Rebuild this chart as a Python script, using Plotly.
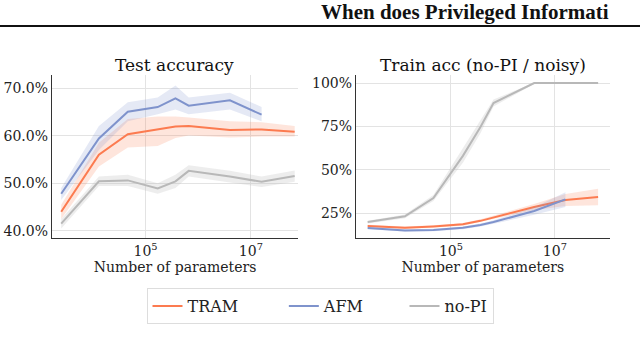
import plotly.graph_objects as go

# number of parameters (shared by all runs)
n_params = [2.5e3, 1.3e4, 4.6e4, 1.7e5, 3.7e5, 6.6e5, 4e6, 1.6e7, 6.8e7]

# test accuracy (%)
tram_test = [44.0, 56.0, 60.3, 61.4, 61.9, 62.0, 61.2, 61.3, 60.8]
tram_test_lo = [42.5, 53.5, 57.5, 57.8, 59.5, 60.0, 59.6, 59.8, 59.8]
tram_test_hi = [45.5, 58.5, 63.5, 64.0, 64.0, 63.8, 63.0, 62.8, 62.0]
afm_test = [47.8, 59.4, 65.0, 66.0, 67.8, 66.3, 67.4, 64.4]
afm_test_lo = [46.5, 57.0, 63.0, 64.5, 65.5, 64.5, 65.5, 63.0]
afm_test_hi = [49.0, 62.0, 67.0, 68.0, 70.5, 68.0, 69.0, 66.0]
nopi_test = [41.5, 50.4, 50.6, 48.9, 50.4, 52.6, 51.4, 50.3, 51.5]
nopi_test_lo = [40.5, 49.4, 49.4, 47.8, 49.0, 51.4, 50.2, 49.2, 50.3]
nopi_test_hi = [42.5, 51.4, 51.8, 50.0, 51.8, 53.8, 52.6, 51.4, 52.7]

# train accuracy on no-PI / noisy samples (%)
tram_train = [17.5, 16.5, 17.3, 18.5, 20.5, 22.5, 28.5, 32.5, 34.2]
tram_train_lo = [16.7, 15.8, 16.6, 17.7, 19.6, 21.5, 26.8, 29.0, 29.5]
tram_train_hi = [18.3, 17.2, 18.0, 19.3, 21.4, 23.5, 30.2, 36.0, 39.0]
afm_train = [16.3, 15.0, 15.2, 16.5, 18.1, 19.8, 26.2, 32.9]
afm_train_lo = [15.6, 14.3, 14.5, 15.7, 17.2, 18.8, 24.0, 28.5]
afm_train_hi = [17.0, 15.7, 15.9, 17.3, 19.0, 20.8, 28.4, 37.0]
nopi_train = [19.8, 23.1, 33.7, 58.0, 74.7, 88.5, 100.0, 100.0, 100.0]
nopi_train_lo = [19.0, 22.0, 32.0, 54.0, 71.0, 86.5, 99.5, 99.5, 99.5]
nopi_train_hi = [20.6, 24.2, 35.4, 62.0, 78.5, 90.5, 100.3, 100.3, 100.3]

colors = {'TRAM': '#fc7b50', 'AFM': '#7f93cc', 'no-PI': '#b8b8b8'}
fills = {'TRAM': 'rgba(252,123,80,0.2)', 'AFM': 'rgba(127,147,204,0.2)',
         'no-PI': 'rgba(184,184,184,0.25)'}
# trailing spaces give the wider gaps between legend entries
legend_pad = {'TRAM': '\u00a0' * 8, 'AFM': '\u00a0' * 7, 'no-PI': ''}
FONT = 'DejaVu Serif'

fig = go.Figure()


def add_series(name, y, lo, hi, xa, ya, legend):
    xs = n_params[:len(y)]
    fig.add_trace(go.Scatter(x=xs + xs[::-1], y=hi + lo[::-1], fill='toself',
                             mode='lines', fillcolor=fills[name],
                             line={'width': 0}, hoverinfo='skip',
                             showlegend=False, xaxis=xa, yaxis=ya))
    fig.add_trace(go.Scatter(x=xs, y=y, mode='lines',
                             name=name + legend_pad[name],
                             line={'color': colors[name], 'width': 2},
                             legendgroup=name, showlegend=legend,
                             legendrank={'TRAM': 1, 'AFM': 2, 'no-PI': 3}[name],
                             xaxis=xa, yaxis=ya))


# draw order: no-PI at the back
add_series('no-PI', nopi_test, nopi_test_lo, nopi_test_hi, 'x', 'y', False)
add_series('TRAM', tram_test, tram_test_lo, tram_test_hi, 'x', 'y', True)
add_series('AFM', afm_test, afm_test_lo, afm_test_hi, 'x', 'y', True)
add_series('no-PI', nopi_train, nopi_train_lo, nopi_train_hi, 'x2', 'y2', True)
add_series('TRAM', tram_train, tram_train_lo, tram_train_hi, 'x2', 'y2', False)
add_series('AFM', afm_train, afm_train_lo, afm_train_hi, 'x2', 'y2', False)

xcommon = dict(type='log', showgrid=True, gridcolor='#e3e3e3', gridwidth=1,
               zeroline=False, showline=True, linecolor='#333333', linewidth=1,
               ticks='', tickvals=[1e5, 1e7],
               ticktext=['10<sup>5</sup>', '10<sup>7</sup>'],
               tickfont={'family': FONT, 'size': 14, 'color': '#222'},
               title={'text': 'Number of parameters', 'standoff': 2,
                      'font': {'family': FONT, 'size': 14, 'color': '#222'}})
ycommon = dict(showgrid=True, gridcolor='#e3e3e3', gridwidth=1, zeroline=False,
               showline=True, linecolor='#333333', linewidth=1, ticks='',
               tickfont={'family': FONT, 'size': 14, 'color': '#222'})

fig.update_layout(
    width=640, height=340,
    margin={'t': 0, 'b': 0, 'l': 0, 'r': 0},
    paper_bgcolor='white', plot_bgcolor='white',
    xaxis=dict(xcommon, domain=[0.081, 0.466], range=[3.22, 7.9], anchor='y'),
    yaxis=dict(ycommon, domain=[0.3, 0.779], range=[38.5, 72.7], anchor='x',
               tickvals=[40, 50, 60, 70],
               ticktext=['40.0%', '50.0%', '60.0%', '70.0%']),
    xaxis2=dict(xcommon, domain=[0.556, 0.953], range=[3.17, 8.06], anchor='y2'),
    yaxis2=dict(ycommon, domain=[0.3, 0.779], range=[10.6, 104.6], anchor='x2',
                tickvals=[25, 50, 75, 100],
                ticktext=['25%', '50%', '75%', '100%']),
    legend={'orientation': 'h', 'x': 0.5, 'xanchor': 'center',
            'y': 1 - 288 / 340, 'yanchor': 'top',
            'bordercolor': '#dddddd', 'borderwidth': 1,
            'font': {'family': FONT, 'size': 16, 'color': '#222'},
            'traceorder': 'normal'},
    annotations=[
        {'text': 'Test accuracy', 'x': 0.2734, 'y': 1 - 65 / 340,
         'xref': 'paper', 'yref': 'paper', 'showarrow': False,
         'xanchor': 'center', 'yanchor': 'middle',
         'font': {'family': FONT, 'size': 17, 'color': '#111'}},
        {'text': 'Train acc (no-PI / noisy)', 'x': 0.7547, 'y': 1 - 65 / 340,
         'xref': 'paper', 'yref': 'paper', 'showarrow': False,
         'xanchor': 'center', 'yanchor': 'middle',
         'font': {'family': FONT, 'size': 17, 'color': '#111'}},
        {'text': '<b>When does Privileged Informati</b>',
         'x': 319 / 640, 'y': 1 - 12.5 / 340,
         'xref': 'paper', 'yref': 'paper', 'showarrow': False,
         'xanchor': 'left', 'yanchor': 'middle',
         'font': {'family': 'Liberation Serif', 'size': 21, 'color': '#111'}},
    ],
    shapes=[{'type': 'line', 'xref': 'paper', 'yref': 'paper',
             'x0': 0, 'x1': 1, 'y0': 1 - 26 / 340, 'y1': 1 - 26 / 340,
             'line': {'color': '#111', 'width': 2}}],
)

# drop the browser's default page margin so the figure sits at the corner
fig.write_html("out.html", config={'displayModeBar': False},
               post_script="document.body.style.margin='0';")
